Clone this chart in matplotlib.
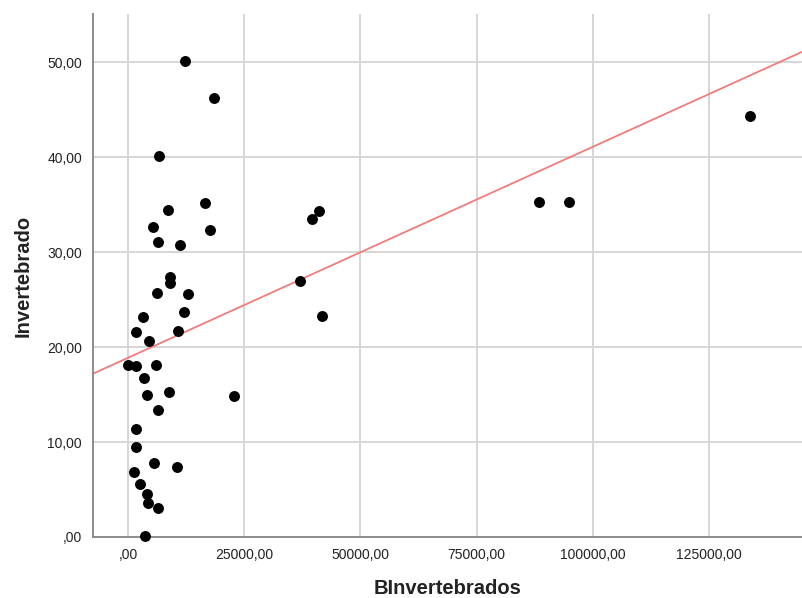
import numpy as np
import matplotlib.pyplot as plt
from matplotlib.ticker import FuncFormatter

plt.rcParams['font.family'] = ['Liberation Sans', 'DejaVu Sans']

# biomass of invertebrates vs. invertebrate count
binvert = [12260, 18570, 6740, 16560, 8540, 5450, 17640, 6520, 11190,
           9030, 9030, 6170, 12840, 3160, 12050, 1720, 4520, 10820,
           65, 1650, 6020, 3510, 4020, 8890, 22800, 6390, 1650, 1650,
           5660, 10470, 1290, 2580, 4020, 4370, 6450, 3730,
           41020, 39580, 37000, 41730, 88400, 94930, 133800]
invert = [50.1, 46.2, 40.1, 35.2, 34.4, 32.7, 32.3, 31.1, 30.8,
          27.4, 26.8, 25.7, 25.6, 23.15, 23.7, 21.6, 20.7, 21.7,
          18.1, 18.05, 18.1, 16.8, 15.0, 15.3, 14.9, 13.4, 11.4, 9.5,
          7.8, 7.4, 6.8, 5.55, 4.5, 3.6, 3.1, 0.1,
          34.3, 33.5, 27.0, 23.3, 35.3, 35.3, 44.4]

# linear fit (total)
fit_intercept = 18.88
fit_slope = 2.223e-4

x_ticks = [0, 25000, 50000, 75000, 100000, 125000]
y_ticks = [0, 10, 20, 30, 40, 50]
xmin, xmax = -7530, 145200
ymin, ymax = 0, 55.1


def comma_fmt(v, pos=None):
    s = f"{v:.2f}".replace('.', ',')
    if s.startswith('0,'):
        s = s[1:]
    return s


fig = plt.figure(figsize=(8.03, 5.98), dpi=100)
ax = fig.add_axes([93 / 803, 61 / 598, 1 - 93 / 803, (537 - 14) / 598])

ax.set_xlim(xmin, xmax)
ax.set_ylim(ymin, ymax)
ax.set_xticks(x_ticks)
ax.set_yticks(y_ticks)
ax.xaxis.set_major_formatter(FuncFormatter(comma_fmt))
ax.yaxis.set_major_formatter(FuncFormatter(comma_fmt))

ax.grid(True, color='#d6d6d6', linewidth=1.4, zorder=0)
ax.set_axisbelow(True)
for side in ['top', 'right']:
    ax.spines[side].set_visible(False)
for side in ['left', 'bottom']:
    ax.spines[side].set_color('#8c8c8c')
    ax.spines[side].set_linewidth(1.4)
ax.tick_params(length=0, labelsize=10, colors='#222222', pad=8)

xs = np.array([xmin, xmax])
ax.plot(xs, fit_intercept + fit_slope * xs, color='#f07c7c', linewidth=1.3,
        zorder=2, clip_on=True)

ax.scatter(binvert, invert, s=62, color='black', zorder=3, clip_on=False,
           linewidths=0)

ax.set_xlabel('BInvertebrados', fontsize=14.5, fontweight='bold',
              labelpad=12, color='#222222')
ax.set_ylabel('Invertebrado', fontsize=14.5, fontweight='bold',
              labelpad=10, color='#222222')

fig.savefig('out.png', dpi=100)
